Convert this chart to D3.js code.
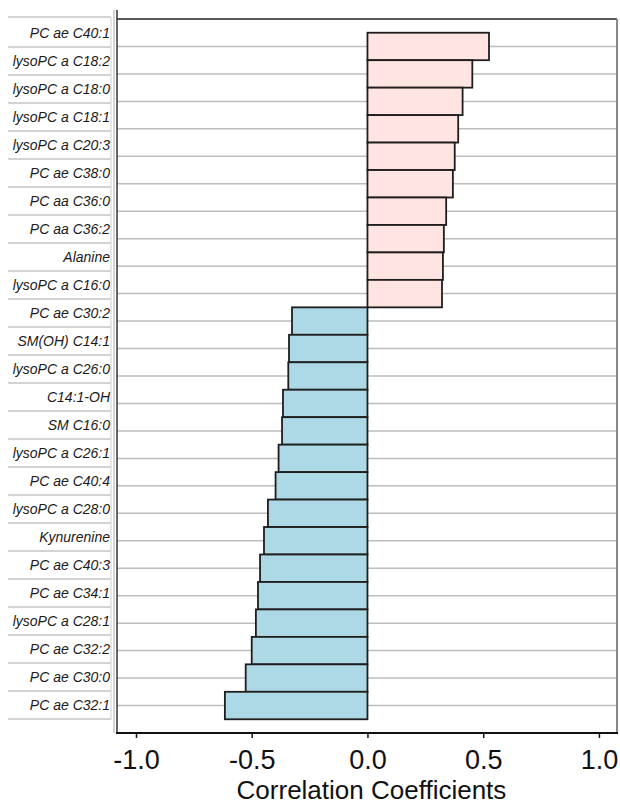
<!DOCTYPE html>
<html>
<head>
<meta charset="utf-8">
<script src="https://cdn.jsdelivr.net/npm/d3@7"></script>
<style>
  html, body { margin: 0; padding: 0; background: #fff; }
  svg { display: block; font-family: "Liberation Sans", Arial, sans-serif; }
</style>
</head>
<body>
<svg id="chart" width="620" height="807"></svg>
<script>
// Metabolites ordered from strongest positive to strongest negative correlation
const metabolites = [
  "PC ae C40:1", "lysoPC a C18:2", "lysoPC a C18:0", "lysoPC a C18:1", "lysoPC a C20:3",
  "PC ae C38:0", "PC aa C36:0", "PC aa C36:2", "Alanine", "lysoPC a C16:0",
  "PC ae C30:2", "SM(OH) C14:1", "lysoPC a C26:0", "C14:1-OH", "SM C16:0",
  "lysoPC a C26:1", "PC ae C40:4", "lysoPC a C28:0", "Kynurenine", "PC ae C40:3",
  "PC ae C34:1", "lysoPC a C28:1", "PC ae C32:2", "PC ae C30:0", "PC ae C32:1"
];
const coefficients = [
  0.525, 0.453, 0.411, 0.392, 0.377,
  0.369, 0.340, 0.330, 0.326, 0.322,
  -0.326, -0.339, -0.342, -0.365, -0.369,
  -0.384, -0.397, -0.430, -0.447, -0.464,
  -0.473, -0.482, -0.500, -0.526, -0.616
];
const xTicks = [-1.0, -0.5, 0.0, 0.5, 1.0];
const xTitle = "Correlation Coefficients";

const rows = metabolites.map((name, i) => ({ name, value: coefficients[i] }));

const svg = d3.select("#chart");
const plot = { left: 117, right: 617, top: 19, bottom: 733 };

const x = d3.scaleLinear().domain([-1.082, 1.078]).range([plot.left, plot.right]);
const y = d3.scaleBand().domain(metabolites)
  .range([plot.top, plot.bottom]).paddingInner(0).paddingOuter(0.5);
// label column is its own panel with a slightly wider row pitch
const yLab = d3.scaleBand().domain(metabolites).range([19, 719]).padding(0);

// label panel cells
const cells = svg.append("g");
cells.selectAll("rect").data(metabolites).join("rect")
  .attr("x", 8).attr("y", d => yLab(d))
  .attr("width", 103).attr("height", yLab.bandwidth())
  .attr("fill", "#fff");
cells.append("line")
  .attr("x1", 8).attr("x2", 111).attr("y1", 17).attr("y2", 17)
  .attr("stroke", "#c4c4c4").attr("stroke-width", 1.5);
cells.selectAll("line.cell").data(metabolites).join("line")
  .attr("class", "cell")
  .attr("x1", 8).attr("x2", 111)
  .attr("y1", d => yLab(d) + yLab.bandwidth())
  .attr("y2", d => yLab(d) + yLab.bandwidth())
  .attr("stroke", "#c4c4c4").attr("stroke-width", 1.5);
cells.append("line")
  .attr("x1", 111).attr("x2", 111).attr("y1", 17).attr("y2", 720)
  .attr("stroke", "#d0d0d0").attr("stroke-width", 1);
cells.selectAll("text").data(metabolites).join("text")
  .attr("x", 110).attr("y", d => yLab(d) + yLab.bandwidth() / 2)
  .attr("dy", "0.36em")
  .attr("text-anchor", "end")
  .attr("font-size", 14).attr("font-style", "italic").attr("fill", "#1a1a1a")
  .text(d => d);

// horizontal grid lines through each row
svg.append("g").selectAll("line").data(metabolites).join("line")
  .attr("x1", plot.left).attr("x2", plot.right)
  .attr("y1", d => y(d) + y.bandwidth() / 2)
  .attr("y2", d => y(d) + y.bandwidth() / 2)
  .attr("stroke", "#bdbdbd").attr("stroke-width", 1.5);

// bars
svg.append("g").selectAll("rect").data(rows).join("rect")
  .attr("x", d => x(Math.min(0, d.value)))
  .attr("y", d => y(d.name))
  .attr("width", d => Math.abs(x(d.value) - x(0)))
  .attr("height", y.bandwidth())
  .attr("fill", d => d.value >= 0 ? "#ffe4e1" : "#add8e6")
  .attr("stroke", "#1e1e1e").attr("stroke-width", 1.8);

// frame
svg.append("line").attr("x1", plot.left).attr("x2", plot.right)
  .attr("y1", plot.top).attr("y2", plot.top)
  .attr("stroke", "#222").attr("stroke-width", 1.5);
svg.append("line").attr("x1", plot.right).attr("x2", plot.right)
  .attr("y1", plot.top).attr("y2", plot.bottom)
  .attr("stroke", "#888").attr("stroke-width", 2);
svg.append("line").attr("x1", 114).attr("x2", 114)
  .attr("y1", 10).attr("y2", plot.bottom)
  .attr("stroke", "#aaa").attr("stroke-width", 1);
svg.append("line").attr("x1", plot.left).attr("x2", plot.left)
  .attr("y1", 10).attr("y2", plot.bottom)
  .attr("stroke", "#333").attr("stroke-width", 1.5);

// bottom axis
const fmt = d3.formatLocale({ decimal: ".", thousands: ",", grouping: [3], currency: ["", ""], minus: "-" }).format(".1f");
const axis = svg.append("g")
  .attr("transform", `translate(0,${plot.bottom})`)
  .call(d3.axisBottom(x).tickValues(xTicks).tickFormat(fmt).tickSize(5).tickSizeOuter(0));
axis.select(".domain").remove();
axis.append("line").attr("x1", plot.left - 1).attr("x2", plot.right + 1)
  .attr("stroke", "#111").attr("stroke-width", 2);
axis.selectAll(".tick line").attr("stroke", "#111").attr("stroke-width", 1.5);
axis.selectAll(".tick text")
  .attr("font-family", "\"Liberation Sans\", Arial, sans-serif")
  .attr("font-size", 27).attr("fill", "#111")
  .attr("y", 36).attr("dy", 0);

svg.append("text")
  .attr("x", x(0) + 4).attr("y", 799)
  .attr("text-anchor", "middle")
  .attr("font-size", 26).attr("fill", "#111")
  .text(xTitle);
</script>
</body>
</html>
